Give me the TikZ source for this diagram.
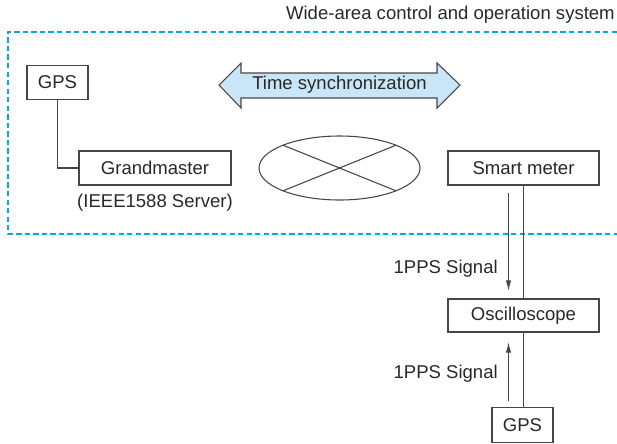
\documentclass[tikz,border=0pt]{standalone}
\usepackage{fontspec}
\setmainfont{Liberation Sans}
\usetikzlibrary{calc,arrows.meta,shapes.geometric}

\definecolor{ink}{RGB}{40,40,40}
\definecolor{rule}{RGB}{70,70,70}
\definecolor{zone}{RGB}{0,168,228}
\definecolor{syncfill}{RGB}{200,230,247}

\tikzset{
  lbl/.style={font=\fontsize{13.9pt}{16pt}\selectfont, text=ink, inner sep=0pt},
  unit/.style={lbl, draw=rule, line width=0.8pt, rectangle, inner sep=0pt, outer sep=0pt, fill=white},
  wire/.style={draw=rule, line width=0.8pt},
  sig/.style={wire, -{Latex[length=8pt,width=4pt]}},
  zoneline/.style={draw=zone, line width=0.9pt, dash pattern=on 4pt off 2.4pt},
}

\begin{document}
\begin{tikzpicture}[x=0.75pt, y=-0.75pt]
\useasboundingbox (0,0) rectangle (617,443);

% monitored zone
\draw[zoneline] (617,32) -| (8,234) -- (617,234);
\node[lbl, anchor=east] (zonetitle) at (615,15) {Wide-area control and operation system};

% time source and master clock
\node[unit, minimum width=45.75pt, minimum height=25.5pt] (gpsa) at (57.5,82.5) {GPS};
\node[unit, minimum width=114pt, minimum height=25.5pt] (gm) at (155,168) {Grandmaster};
\node[lbl] (gmnote) at (155,203) {(IEEE1588 Server)};
\draw[wire] (gpsa.south) |- (gm.west);

% synchronization arrow
\path[fill=syncfill, draw=rule, line width=0.8pt]
  (219,85) -- (241,63) -- (241,73) -- (437,73) -- (437,63) -- (460,85)
  -- (437,108) -- (437,98) -- (241,98) -- (241,108) -- cycle;
\node[lbl] (synctext) at (339.5,85) {Time synchronization};

% network cloud
\node[ellipse, draw=rule, line width=0.8pt, inner sep=0pt, outer sep=0pt,
      minimum width=120.75pt, minimum height=48pt] (net) at (339.5,168) {};
\draw[wire] (net.158) -- (net.338);
\draw[wire] (net.202) -- (net.22);

% measurement chain
\node[unit, minimum width=113.25pt, minimum height=25.5pt] (sm) at (523.5,168) {Smart meter};
\node[unit, minimum width=113.25pt, minimum height=24.75pt] (osc) at (523.5,315.5) {Oscilloscope};
\node[unit, minimum width=45.75pt, minimum height=26.25pt] (gpsb) at (522.5,425) {GPS};

\draw[wire] (sm.south) -- (osc.north);
\draw[wire] (osc.south) -- (osc.south |- gpsb.north);
\draw[sig] ($(sm.south)+(-15,8)$) -- ($(osc.north)+(-15,-8)$);
\draw[sig] ($(osc.south)+(-15,69)$) -- ($(osc.south)+(-15,10)$);

\node[lbl, anchor=east] (ppsa) at (498,269) {1PPS Signal};
\node[lbl, anchor=east] (ppsb) at (498,374) {1PPS Signal};
\end{tikzpicture}
\end{document}
